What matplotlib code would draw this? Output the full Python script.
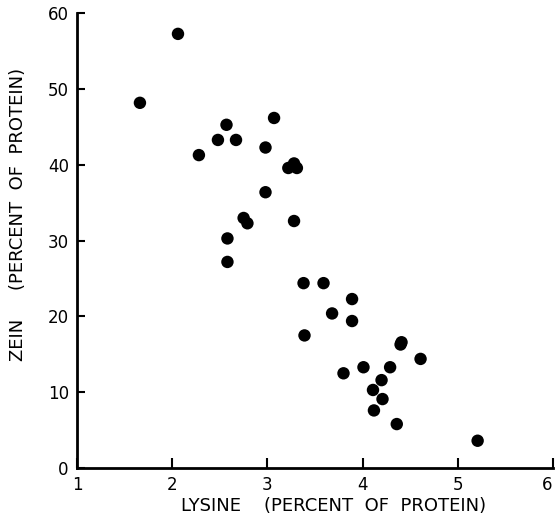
import matplotlib.pyplot as plt
import numpy as np

# lysine and zein, both as percent of protein
lysine = [1.66, 2.06, 2.28, 2.48, 2.57, 2.67, 3.07, 2.98, 3.22, 3.28, 3.31,
          2.98, 2.75, 2.79, 3.28, 2.58, 2.58,
          3.38, 3.59, 3.89, 3.68, 3.89, 3.39, 4.40, 4.41, 4.61, 3.80, 4.01,
          4.29, 4.20, 4.11, 4.21, 4.12, 4.36, 5.21]
zein = [48.2, 57.3, 41.3, 43.3, 45.3, 43.3, 46.2, 42.3, 39.6, 40.2, 39.6,
        36.4, 33.0, 32.3, 32.6, 30.3, 27.2,
        24.4, 24.4, 22.3, 20.4, 19.4, 17.5, 16.3, 16.6, 14.4, 12.5, 13.3,
        13.3, 11.6, 10.3, 9.1, 7.6, 5.8, 3.6]

x_ticks = [1, 2, 3, 4, 5, 6]
y_ticks = [0, 10, 20, 30, 40, 50, 60]

plt.rcParams['font.family'] = ['DejaVu Sans']

fig = plt.figure(figsize=(5.55, 5.16), dpi=100)
ax = fig.add_axes([0.139, 0.093, 0.857, 0.881])

# scatter of the samples
ax.scatter(lysine, zein, s=80, c='black', edgecolors='none', zorder=3)

ax.set_xlim(1, 6)
ax.set_ylim(0, 60)
ax.set_xticks(x_ticks)
ax.set_yticks(y_ticks)

# only left and bottom axis lines, like the printed figure
for side in ['top', 'right']:
    ax.spines[side].set_visible(False)
for side in ['left', 'bottom']:
    ax.spines[side].set_linewidth(2)
    ax.spines[side].set_color('black')

ax.tick_params(axis='x', direction='in', length=7, width=1.5, pad=6, labelsize=12)
ax.tick_params(axis='y', direction='in', length=6, width=1.5, pad=6, labelsize=12)
# the last x label sits at the figure edge, keep it inside
ax.get_xticklabels()[-1].set_horizontalalignment('right')

ax.set_xlabel('LYSINE    (PERCENT  OF  PROTEIN)', fontsize=13)
ax.set_ylabel('ZEIN     (PERCENT  OF  PROTEIN)', fontsize=13)
ax.xaxis.set_label_coords(0.54, -0.064)
ax.yaxis.set_label_coords(-0.105, 0.557)

fig.savefig('out.png', dpi=100)
